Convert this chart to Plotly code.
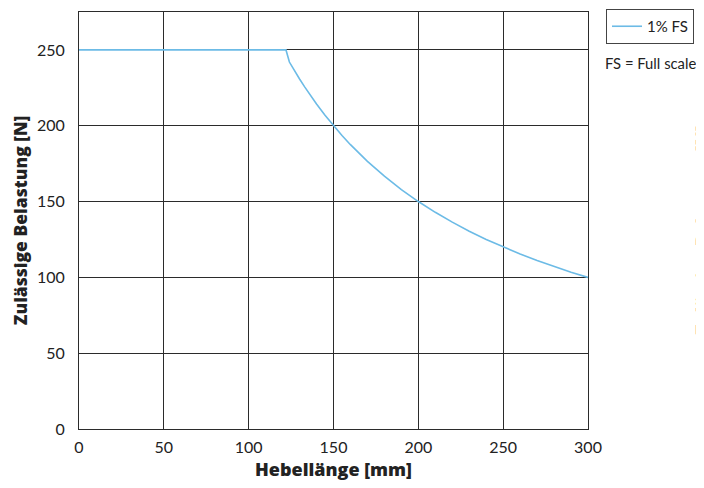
import plotly.graph_objects as go

# Data
lever_mm = [0, 122, 124, 126, 128, 130, 133, 136, 140, 145, 150, 155, 160, 170,
            180, 190, 200, 210, 220, 230, 240, 250, 260, 270, 280, 290, 300]
load_n = [250, 250, 242, 238.1, 234.4, 230.8, 225.6, 220.6, 214.3, 206.9, 200,
          193.5, 187.5, 176.5, 166.7, 157.9, 150, 142.9, 136.4, 130.4, 125, 120,
          115.4, 111.1, 107.1, 103.4, 100]
series_name = "1% FS"
x_ticks = [0, 50, 100, 150, 200, 250, 300]
y_ticks = [0, 50, 100, 150, 200, 250]

FONT = "Lato"
TFONT = "Open Sans"
GRID = "#2b2b2b"

fig = go.Figure()
fig.add_trace(go.Scatter(
    x=lever_mm, y=load_n, mode="lines", name=series_name,
    line=dict(color="#6cbbe6", width=1.6),
    showlegend=True,
))

fig.update_layout(
    width=704, height=488,
    margin=dict(l=71, r=124, t=4, b=67, autoexpand=False),
    paper_bgcolor="white", plot_bgcolor="white",
    font=dict(family=FONT, size=14, color="#222"),
    showlegend=True,
    legend=dict(
        x=(606 - 79) / 509, y=(429 - 9) / 417, xanchor="left", yanchor="top",
        bordercolor="#444", borderwidth=1,
        font=dict(family=FONT, size=15, color="#222"),
        itemwidth=30,
    ),
    xaxis=dict(
        range=[0, 300], tickvals=x_ticks, ticks="",
        showgrid=True, gridcolor=GRID, gridwidth=1,
        showline=True, linecolor=GRID, linewidth=1, mirror=True,
        zeroline=False,
        tickfont=dict(family=FONT, size=16, color="#222"),
        ticklabelstandoff=4,
        title=dict(text="Hebellänge [mm]", standoff=8,
                   font=dict(family=TFONT, size=18, color="#222", weight=800)),
    ),
    yaxis=dict(
        range=[0, 275], tickvals=y_ticks, ticks="",
        showgrid=True, gridcolor=GRID, gridwidth=1,
        showline=True, linecolor=GRID, linewidth=1, mirror=True,
        zeroline=False,
        tickfont=dict(family=FONT, size=16, color="#222"),
        ticklabelstandoff=10,
        title=dict(text="Zulässige Belastung [N]", standoff=12,
                   font=dict(family=TFONT, size=17.5, color="#222", weight=800)),
    ),
    annotations=[
        dict(text="FS = Full scale", xref="paper", yref="paper",
             x=(603 - 79) / 509, y=(429 - 63) / 417, xanchor="left", yanchor="middle",
             showarrow=False, font=dict(family=FONT, size=14.8, color="#222")),
        dict(text="Zulässige Belastung [N]", xref="paper", yref="paper",
             x=(702 - 79) / 509, y=(429 - 230) / 417, xanchor="center", yanchor="middle",
             textangle=-90, showarrow=False,
             font=dict(family=TFONT, size=17.5, color="#222", weight=800)),
    ],
)

fig.write_html("out.html")
